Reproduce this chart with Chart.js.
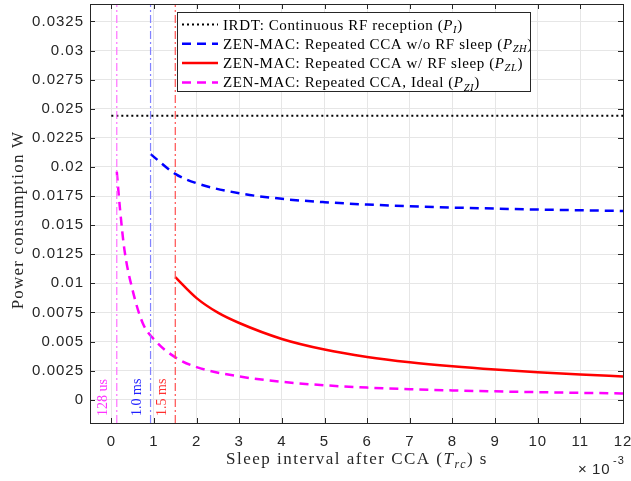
<!DOCTYPE html>
<html lang="en">
<head>
<meta charset="UTF-8">
<title>Power consumption vs sleep interval</title>
<script src="https://cdn.jsdelivr.net/npm/chart.js"></script>
<style>
    body { margin: 0; background: #fff; }
    #wrap { width: 631px; height: 481px; }
</style>
</head>
<body>
<div id="wrap"><canvas id="chart" width="631" height="481"></canvas></div>
<script>
// x values are in ms (axis shows x10^-3 s)
const irdtX = [0, 12];
const irdtY = [0.0244, 0.0244];

const zhX = [0.92, 1.5, 2, 3, 4, 5, 6, 7, 8, 9, 10, 11, 12];
const zhY = [0.0211, 0.0194, 0.0186, 0.01774, 0.01726, 0.01697, 0.01677, 0.01662, 0.01651, 0.01642, 0.01634, 0.01628, 0.01622];

const zlX = [1.5, 2, 2.5, 3, 4, 5, 6, 7, 8, 9, 10, 11, 12];
const zlY = [0.01053, 0.00873, 0.00748, 0.00659, 0.00522, 0.00431, 0.00368, 0.00322, 0.00287, 0.00259, 0.00236, 0.00217, 0.00200];

const ziX = [0.128, 0.206, 0.307, 0.5, 0.735, 1.05, 1.52, 2, 3, 4, 5, 6, 7, 8, 9, 10, 11, 12];
const ziY = [0.0196, 0.0163, 0.0129, 0.0094, 0.0066, 0.0050, 0.0036, 0.0028, 0.0020, 0.00154, 0.00124, 0.00104, 0.0009, 0.0008, 0.00072, 0.00065, 0.00059, 0.00054];

const markerX = [0.128, 0.92, 1.5];
const markerLabels = ['128 us', '1.0 ms', '1.5 ms'];
const markerColors = ['#ff70ff', '#8282ff', '#ff5050'];
const markerTextColors = ['#ff33ff', '#2020ff', '#ff3030'];

const seriesNames = [
    'IRDT: Continuous RF reception (',
    'ZEN-MAC: Repeated CCA w/o RF sleep (',
    'ZEN-MAC: Repeated CCA w/ RF sleep (',
    'ZEN-MAC: Repeated CCA, Ideal ('
];
const seriesSubs = ['I', 'ZH', 'ZL', 'ZI'];

const xTicks = [0, 1, 2, 3, 4, 5, 6, 7, 8, 9, 10, 11, 12];
const yTicks = [0, 0.0025, 0.005, 0.0075, 0.01, 0.0125, 0.015, 0.0175, 0.02, 0.0225, 0.025, 0.0275, 0.03, 0.0325];
const yTickLabels = ['0', '0.0025', '0.005', '0.0075', '0.01', '0.0125', '0.015', '0.0175', '0.02', '0.0225', '0.025', '0.0275', '0.03', '0.0325'];

const X_MIN = -0.5, X_MAX = 12, Y_MIN = -0.002, Y_MAX = 0.034;
const AX = '#262626';
const SANS = '"Liberation Sans", Arial, sans-serif';
const SERIF = '"Liberation Serif", "Times New Roman", serif';

const pts = (xs, ys) => xs.map((v, i) => ({ x: v, y: ys[i] }));

const markerSets = markerX.map((v, i) => ({
    label: markerLabels[i],
    data: [{ x: v, y: Y_MIN }, { x: v, y: Y_MAX }],
    borderColor: markerColors[i],
    borderWidth: 1.2,
    borderDash: [8, 3, 2, 3],
    pointRadius: 0
}));

const curve = (label, xs, ys, color, dash, width) => ({
    label: label,
    data: pts(xs, ys),
    borderColor: color,
    borderWidth: width,
    borderDash: dash,
    pointRadius: 0,
    cubicInterpolationMode: 'monotone'
});

const datasets = [
    ...markerSets,
    curve(seriesNames[0], irdtX, irdtY, '#000000', [2, 3], 2.2),
    curve(seriesNames[1], zhX, zhY, '#0000ff', [9, 6], 2.5),
    curve(seriesNames[2], zlX, zlY, '#ff0000', [], 2.5),
    curve(seriesNames[3], ziX, ziY, '#ff00ff', [9, 6], 2.5)
];

// draw text made of plain / italic / subscript pieces
function richText(ctx, parts, x, y, size) {
    let cx = x;
    parts.forEach(p => {
        const fs = p.sub ? size * 0.7 : size;
        ctx.font = (p.it ? 'italic ' : '') + fs + 'px ' + SERIF;
        ctx.fillText(p.t, cx, y + (p.sub ? size * 0.22 : 0));
        cx += ctx.measureText(p.t).width;
    });
    return cx - x;
}

const deco = {
    id: 'deco',
    beforeDraw(chart) {
        chart.ctx.letterSpacing = '1px';
    },
    afterDraw(chart) {
        const { ctx, chartArea: a, scales: { x, y } } = chart;
        ctx.save();
        ctx.letterSpacing = '0px';

        // inward ticks + box
        ctx.strokeStyle = AX;
        ctx.lineWidth = 1;
        ctx.beginPath();
        xTicks.forEach(v => {
            const px = Math.round(x.getPixelForValue(v)) + 0.5;
            ctx.moveTo(px, a.bottom); ctx.lineTo(px, a.bottom - 5);
            ctx.moveTo(px, a.top); ctx.lineTo(px, a.top + 5);
        });
        yTicks.forEach(v => {
            const py = Math.round(y.getPixelForValue(v)) + 0.5;
            ctx.moveTo(a.left, py); ctx.lineTo(a.left + 5, py);
            ctx.moveTo(a.right, py); ctx.lineTo(a.right - 5, py);
        });
        ctx.stroke();
        ctx.strokeRect(Math.round(a.left) + 0.5, Math.round(a.top) + 0.5,
            Math.round(a.right) - Math.round(a.left), Math.round(a.bottom) - Math.round(a.top));

        // labels beside the vertical marker lines
        markerX.forEach((v, i) => {
            const px = x.getPixelForValue(v) - 13;
            ctx.save();
            ctx.translate(px, 416);
            ctx.rotate(-Math.PI / 2);
            ctx.font = '14px ' + SERIF;
            ctx.fillStyle = markerTextColors[i];
            ctx.textAlign = 'left';
            ctx.textBaseline = 'middle';
            ctx.fillText(markerLabels[i], 0, 0);
            ctx.restore();
        });

        // legend
        const lx = 177, ly = 12, lw = 353, lh = 79;
        ctx.fillStyle = '#fff';
        ctx.fillRect(lx, ly, lw, lh);
        const legendSets = datasets.slice(markerX.length);
        ctx.save();
        ctx.beginPath();
        ctx.rect(lx, ly, lw, lh);
        ctx.clip();
        legendSets.forEach((ds, i) => {
            const ry = 24.5 + i * 19.3;
            ctx.beginPath();
            ctx.strokeStyle = ds.borderColor;
            ctx.lineWidth = ds.borderWidth;
            ctx.setLineDash(ds.borderDash);
            ctx.moveTo(182, ry); ctx.lineTo(218, ry);
            ctx.stroke();
            ctx.setLineDash([]);
            ctx.fillStyle = '#000';
            ctx.textBaseline = 'alphabetic';
            ctx.textAlign = 'left';
            ctx.letterSpacing = '0.6px';
            richText(ctx, [
                { t: seriesNames[i] },
                { t: 'P', it: true },
                { t: seriesSubs[i], it: true, sub: true },
                { t: ')' }
            ], 223, ry + 5, 15);
            ctx.letterSpacing = '0px';
        });
        ctx.restore();
        ctx.strokeStyle = AX;
        ctx.lineWidth = 1;
        ctx.strokeRect(lx + 0.5, ly + 0.5, lw, lh);

        // y axis title
        ctx.save();
        ctx.translate(19, 220);
        ctx.rotate(-Math.PI / 2);
        ctx.fillStyle = AX;
        ctx.font = '17px ' + SERIF;
        ctx.letterSpacing = '1.2px';
        ctx.textAlign = 'center';
        ctx.textBaseline = 'middle';
        ctx.fillText('Power consumption W', 0, 0);
        ctx.restore();

        // x axis title
        ctx.fillStyle = AX;
        ctx.textAlign = 'left';
        ctx.textBaseline = 'alphabetic';
        const xParts = [
            { t: 'Sleep interval after CCA (' },
            { t: 'T', it: true },
            { t: 'rc', it: true, sub: true },
            { t: ') s' }
        ];
        ctx.letterSpacing = '1.5px';
        ctx.globalAlpha = 0;
        const w = richText(ctx, xParts, 0, -100, 17);
        ctx.globalAlpha = 1;
        richText(ctx, xParts, 357 - w / 2, 464, 17);
        ctx.letterSpacing = '0px';

        // exponent
        ctx.font = '15px ' + SANS;
        ctx.fillText('\u00d7', 578, 474);
        ctx.letterSpacing = '1px';
        ctx.fillText('10', 592, 474);
        ctx.font = '11px ' + SANS;
        ctx.fillText('-3', 613, 464);

        ctx.restore();
    }
};

new Chart(document.getElementById('chart'), {
    type: 'line',
    data: { datasets: datasets },
    plugins: [deco],
    options: {
        responsive: false,
        animation: false,
        devicePixelRatio: 1,
        layout: { padding: { left: 0, top: 4, right: 8, bottom: 0 } },
        plugins: { legend: { display: false }, tooltip: { enabled: false } },
        scales: {
            x: {
                type: 'linear',
                min: X_MIN,
                max: X_MAX,
                afterBuildTicks: s => { s.ticks = xTicks.map(v => ({ value: v })); },
                afterFit: s => {
                    s.height = 58;
                    s.paddingLeft = 0; s.paddingRight = 0;
                },
                grid: { color: '#e6e6e6', drawTicks: false },
                border: { color: AX },
                ticks: {
                    padding: 10,
                    maxRotation: 0,
                    color: AX,
                    font: { family: SANS, size: 15 },
                    callback: v => String(v)
                }
            },
            y: {
                type: 'linear',
                min: Y_MIN,
                max: Y_MAX,
                afterBuildTicks: s => { s.ticks = yTicks.map(v => ({ value: v })); },
                afterFit: s => {
                    s.width = 90;
                    s.paddingTop = 0; s.paddingBottom = 0;
                },
                grid: { color: '#e6e6e6', drawTicks: false },
                border: { color: AX },
                ticks: {
                    padding: 6,
                    color: AX,
                    font: { family: SANS, size: 15 },
                    callback: (v, i) => yTickLabels[i]
                }
            }
        }
    }
});
</script>
</body>
</html>
